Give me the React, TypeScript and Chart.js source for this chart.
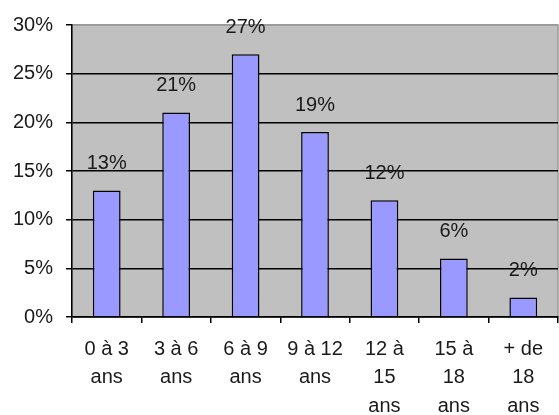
import React, { useEffect, useRef } from "react";
import { Chart, registerables } from "chart.js";

Chart.register(...registerables);

const categories: string[][] = [
  ["0 à 3", "ans"],
  ["3 à 6", "ans"],
  ["6 à 9", "ans"],
  ["9 à 12", "ans"],
  ["12 à", "15", "ans"],
  ["15 à", "18", "ans"],
  ["+ de", "18", "ans"],
];
const shares: number[] = [13, 21, 27, 19, 12, 6, 2];
const yMax = 30;
const yStep = 5;

const FONT = "'Liberation Sans', Arial, sans-serif";
const TEXT = "#1a1a1a";

const plotBg = {
  id: "plotBg",
  beforeDraw(chart: any) {
    const { ctx, chartArea: a } = chart;
    ctx.save();
    ctx.fillStyle = "#C0C0C0";
    ctx.fillRect(a.left, a.top, a.right - a.left, a.bottom - a.top);
    ctx.strokeStyle = "#9a9a9a";
    ctx.lineWidth = 1.5;
    ctx.strokeRect(a.left, a.top, a.right - a.left, a.bottom - a.top);
    ctx.restore();
  },
};

const valueLabels = {
  id: "valueLabels",
  afterDatasetsDraw(chart: any) {
    const { ctx } = chart;
    const meta = chart.getDatasetMeta(0);
    ctx.save();
    ctx.font = `20px ${FONT}`;
    ctx.fillStyle = TEXT;
    ctx.textAlign = "center";
    ctx.textBaseline = "middle";
    meta.data.forEach((bar: any, i: number) => {
      ctx.fillText(`${shares[i]}%`, bar.x, bar.y - 27);
    });
    ctx.restore();
  },
};

export default function App() {
  const ref = useRef<HTMLCanvasElement | null>(null);
  useEffect(() => {
    if (!ref.current) return;
    const chart = new Chart(ref.current, {
      type: "bar",
      data: {
        labels: categories,
        datasets: [
          {
            data: shares,
            backgroundColor: "#9999FF",
            borderColor: "#000000",
            borderWidth: 1.5,
            barPercentage: 0.8,
            categoryPercentage: 0.5,
          },
        ],
      },
      options: {
        animation: false,
        responsive: false,
        devicePixelRatio: 1,
        layout: { padding: { top: 23, right: 1, left: 0, bottom: 0 } },
        plugins: { legend: { display: false }, tooltip: { enabled: false } },
        scales: {
          y: {
            min: 0,
            max: yMax,
            afterFit: (s: any) => {
              s.width = 72;
            },
            ticks: {
              stepSize: yStep,
              padding: 13,
              color: TEXT,
              font: { family: FONT, size: 20 },
              callback: (v: any) => `${v}%`,
            },
            grid: {
              color: (c: any) => (c.tick && c.tick.value === yMax ? "#9a9a9a" : "#000000"),
              lineWidth: 1.5,
              tickLength: 6,
              tickColor: "#000000",
            },
            border: { display: true, color: "#000000", width: 1.5 },
          },
          x: {
            afterFit: (s: any) => {
              s.height = 98;
            },
            ticks: {
              color: TEXT,
              padding: 12,
              maxRotation: 0,
              autoSkip: false,
              font: { family: FONT, size: 20, lineHeight: 1.42 },
            },
            grid: {
              offset: true,
              drawOnChartArea: false,
              tickLength: 6,
              color: "#000000",
              lineWidth: 1.5,
            },
            border: { display: true, color: "#000000", width: 1.5 },
          },
        },
      },
      plugins: [plotBg, valueLabels],
    });
    return () => chart.destroy();
  }, []);
  return (
    <div style={{ position: "fixed", left: 0, top: 0, width: 559, height: 415, background: "#fff" }}>
      <canvas ref={ref} width={559} height={415} style={{ width: 559, height: 415 }} />
    </div>
  );
}
